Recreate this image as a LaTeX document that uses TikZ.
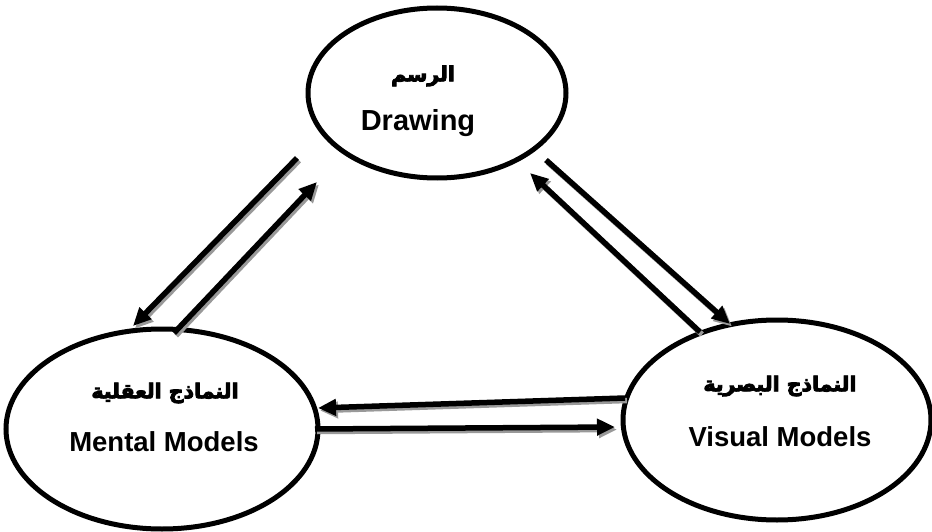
\documentclass[tikz,border=0pt]{standalone}
\usepackage{fontspec}
\setmainfont{Liberation Sans}
\newfontfamily\arabicfont[Script=Arabic]{DejaVu Sans}
\TeXXeTstate=1
\newcommand\arbold[1]{\special{pdf:code q 2 Tr 0.9 w}#1\special{pdf:code Q}}
\usetikzlibrary{shapes.geometric,arrows.meta}
\begin{document}
\begin{tikzpicture}[x=1pt,y=-1pt,
  bubble/.style={draw=black, line width=5pt, ellipse, inner sep=0pt, fill=white},
  en/.style={font=\fontsize{27.5}{32}\selectfont\bfseries, inner sep=0pt},
  ar/.style={font=\fontsize{20.5}{26}\selectfont\arabicfont\bfseries, inner sep=0pt},
  arr/.style={line width=5.5pt, black, -{Triangle[length=18pt,width=16pt]}},
  shade/.style={line width=5.5pt, black!40, -{Triangle[length=18pt,width=16pt]}}]
\useasboundingbox (0,0) rectangle (932,532);
\node[bubble, minimum width=258pt, minimum height=170pt] (top) at (437,93) {};
\node[bubble, minimum width=312pt, minimum height=200pt] (left) at (162,429) {};
\node[bubble, minimum width=308pt, minimum height=200pt] (right) at (777,420) {};

\node[ar] (topar) at (423,76) {\arbold{\beginR الرسم\endR}};
\node[en, font=\fontsize{29}{34}\selectfont\bfseries] (topen) at (418,123) {Drawing};
\node[ar] (leftar) at (165,393) {\arbold{\beginR النماذج العقلية\endR}};
\node[en] (leften) at (164,442) {Mental Models};
\node[ar] (rightar) at (780,386) {\arbold{\beginR النماذج البصرية\endR}};
\node[en] (righten) at (780,437) {Visual Models};

\coordinate (a1s) at (297,158);
\coordinate (a1e) at (133,326);
\coordinate (a2s) at (174,333);
\coordinate (a2e) at (317,182);
\coordinate (a3s) at (546,160);
\coordinate (a3e) at (730,324);
\coordinate (a4s) at (700,332);
\coordinate (a4e) at (530,173);
\coordinate (a5s) at (625,398);
\coordinate (a5e) at (318,408);
\coordinate (a6s) at (315,429);
\coordinate (a6e) at (615,427);

\foreach \s/\e in {a1s/a1e,a2s/a2e,a3s/a3e,a4s/a4e,a5s/a5e,a6s/a6e}{
  \draw[shade] ([shift={(2,2.5)}]\s) -- ([shift={(2,2.5)}]\e);
  \draw[arr] (\s) -- (\e);
}
\end{tikzpicture}
\end{document}
